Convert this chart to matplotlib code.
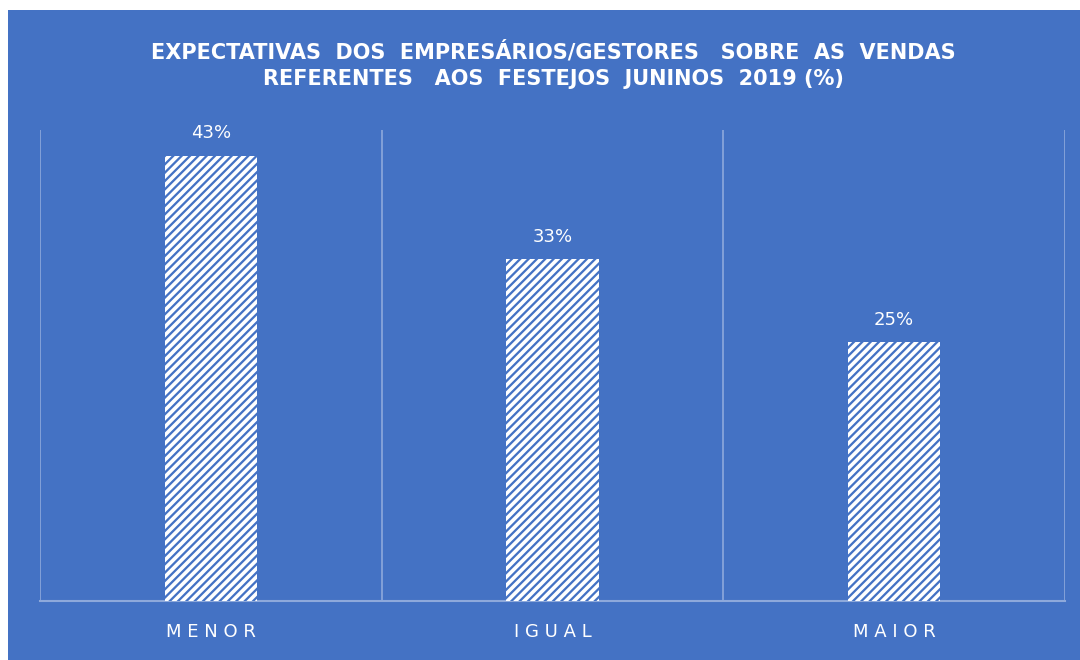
import matplotlib.pyplot as plt
from matplotlib.patches import Rectangle
import numpy as np

plt.rcParams["hatch.color"] = "white"
plt.rcParams["hatch.linewidth"] = 2.6

categories = ["MENOR", "IGUAL", "MAIOR"]
values = [43, 33, 25]
title = ("EXPECTATIVAS  DOS  EMPRESÁRIOS/GESTORES   SOBRE  AS  VENDAS\n"
         "REFERENTES   AOS  FESTEJOS  JUNINOS  2019 (%)")

BG = "#4472C4"
GRID = "#8EA9DB"

fig = plt.figure(figsize=(10.8, 6.6), dpi=100, facecolor="white")
# blue chart area, leaving the thin white margin at top and left
fig.patches.append(Rectangle((8 / 1080, 0), 1, 650 / 660, transform=fig.transFigure,
                             facecolor=BG, edgecolor="none", zorder=-10))

ax = fig.add_axes([40 / 1080, 59 / 660, 1025 / 1080, 471 / 660])
ax.set_facecolor("none")

x = np.arange(len(categories))
ax.bar(x, values, width=0.27, color=BG, edgecolor="white", hatch="////",
       linewidth=0, zorder=3)
for xi, v in zip(x, values):
    ax.text(xi, v + 1.3, f"{v}%", ha="center", va="bottom", color="white",
            fontsize=13)

ax.set_xlim(-0.5, len(categories) - 0.5)
ax.set_ylim(0, 45.5)
ax.set_yticks([])
ax.set_xticks(x)
ax.set_xticklabels([" ".join(c) for c in categories], color="white", fontsize=13)
ax.tick_params(axis="x", length=0, pad=16)
for b in np.arange(-0.5, len(categories), 1.0):
    ax.axvline(b, color=GRID, lw=1.2, zorder=1)
for s in ["top", "left", "right"]:
    ax.spines[s].set_visible(False)
ax.spines["bottom"].set_color(GRID)
ax.spines["bottom"].set_linewidth(1.5)

fig.text(553 / 1080, 1 - 65 / 660, title, ha="center", va="center", color="white",
         fontsize=15, fontweight="bold", linespacing=1.4)

fig.savefig("out.png", dpi=100, facecolor=fig.get_facecolor())
